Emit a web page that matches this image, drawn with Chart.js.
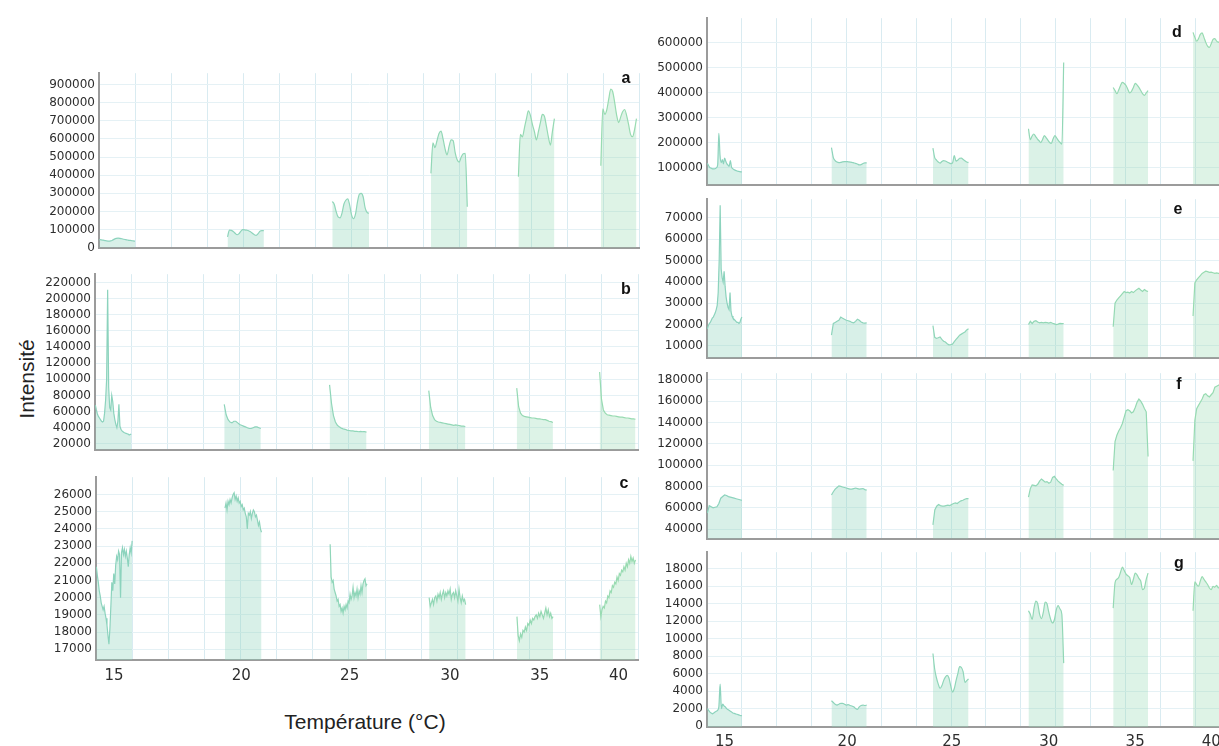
<!DOCTYPE html>
<html><head><meta charset="utf-8">
<script src="https://cdn.jsdelivr.net/npm/chart.js@4/dist/chart.umd.min.js"></script>
<style>
html,body{margin:0;padding:0;background:#fff;overflow:hidden;width:1219px;height:746px;}
#wrap{position:relative;width:1219px;height:746px;overflow:hidden;background:#fff;}
canvas{position:absolute;}
.lt{position:absolute;font:bold 16px "Liberation Sans",Arial,sans-serif;color:#111;transform:translate(-50%,-50%);}
.title{position:absolute;font:21px "Liberation Sans",Arial,sans-serif;color:#222;white-space:nowrap;transform:translate(-50%,-50%);}
</style></head>
<body><div id="wrap">
<div class="title" style="left:27px;top:379px;transform:translate(-50%,-50%) rotate(-90deg);">Intensité</div>
<div class="title" style="left:365px;top:722px;">Température (°C)</div>
</div>
<script>
// ---------------- DATA ----------------
const tempLabels = ['15','20','25','30','35','40'];
const tempPositions = [0.5, 4.02, 7.02, 9.8, 12.28, 14.46];
const xGrid = [0,1,2,3,4,5,6,7,8,9,10,11,12,13,14,15];
const segStart = [0.01, 3.57, 6.48, 9.22, 11.65, 13.94];
const segEnd   = [1.0, 4.58, 7.5, 10.23, 12.65, 14.93];
const panelLetters = ['a','b','c','d','e','f','g'];

const aTicks = [0,100000,200000,300000,400000,500000,600000,700000,800000,900000];
const aRange = [0, 962000];
const a1 = [45000,44000,42000,40000,38000,37000,38000,42000,48000,52000,53000,52000,50000,47000,45000,43000,41000,40000,38000,37000];
const a2 = [60000,98000,96000,90000,80000,72000,78000,92000,100000,99000,97000,94000,88000,80000,72000,68000,78000,92000,95000,94000];
const a3 = [255000,240000,200000,170000,165000,190000,240000,262000,270000,235000,180000,160000,185000,250000,295000,300000,280000,220000,195000,190000];
const a4 = [410000,578000,552000,590000,630000,643000,600000,545000,512000,560000,595000,590000,525000,485000,472000,500000,518000,520000,226000];
const a5 = [392000,625000,611000,660000,710000,755000,730000,680000,640000,595000,640000,690000,735000,725000,670000,610000,566000,640000,712000];
const a6 = [452000,765000,735000,760000,820000,875000,860000,800000,730000,690000,720000,750000,762000,730000,680000,625000,612000,650000,712000];

const bTicks = [20000,40000,60000,80000,100000,120000,140000,160000,180000,200000,220000];
const bRange = [12600, 230200];
const b1 = [68000,62000,57000,54000,52000,50000,48000,47000,48000,58000,74000,100000,211000,90000,65000,62000,80000,72000,58000,50000,44000,40000,48000,69000,42000,38000,36000,35000,34000,33500,33000,32500,32000,31000,31500,32000];
const b2 = [69000,56000,50000,47000,46000,48000,48000,46000,44000,43000,42000,41000,40000,39000,39000,40000,41000,41000,40000,39000];
const b3 = [93000,70000,55000,47000,43000,41000,39500,38500,38000,37000,36500,36000,36000,35500,35500,35000,35500,35000,35000,34500];
const b4 = [86000,65000,55000,50000,48000,47000,46500,46000,45500,45000,44500,44000,43500,43000,43500,43000,42500,42000,42000,41500];
const b5 = [89000,66000,58000,55000,54000,53500,53000,52500,52000,52000,51500,51000,51000,50500,50000,50000,49000,48000,47500,46500];
const b6 = [109000,75000,62000,58000,56000,55500,55000,54500,54500,54000,53500,53000,53000,52500,52000,52000,51500,51000,51000,50500];

const cTicks = [17000,18000,19000,20000,21000,22000,23000,24000,25000,26000];
const cRange = [16380, 27000];
const c1 = [21800,21300,20900,20400,20100,19700,19500,19300,19500,19100,18800,18400,17800,17300,18200,19500,20900,20400,21400,20800,21900,22400,22200,22700,22500,20000,22600,22900,22500,22800,22400,22700,22300,21800,22500,22900,22600,23300];
const c2 = [25200,25500,25100,25600,25400,25700,25500,25800,26000,26100,25700,25900,25600,25800,25500,25600,25300,25400,25100,25200,24900,24700,24000,24900,24800,25000,24600,24900,25100,25000,24700,24800,24500,24200,24400,24000,23800];
const c3 = [23100,21200,20900,21000,20500,20300,20100,19800,19900,19500,19600,19200,19400,19100,19500,19300,19600,19400,19800,19700,20200,19900,20100,20600,20000,20300,20100,20500,20000,20400,20200,20700,20300,20800,21000,21100,20700,20800];
const c4 = [20000,19500,19700,19900,19600,20000,20100,19800,20200,20000,20300,19900,20200,20400,20000,20300,20100,20400,20200,20500,19900,20200,20300,20000,20400,20100,19800,20500,20000,19700,20100,19800,19900,19600];
const c5 = [18900,17800,17500,17900,17700,18100,18000,18300,18100,18500,18400,18700,18500,18800,18700,18900,19000,18800,19100,18900,19200,19000,18800,19100,19400,19000,19300,18900,19100,18800,18900];
const c6 = [19600,18900,19300,19500,19400,19800,19700,20100,20000,20400,20300,20700,20600,20900,20800,21200,21000,21400,21300,21600,21500,21800,21600,22000,21800,22200,22000,22400,22100,22300,22000,22200];

const dTicks = [100000,200000,300000,400000,500000,600000];
const dRange = [31200, 696600];
const d1 = [117000,108000,101000,98000,96000,95000,95000,96000,100000,112000,237000,150000,120000,132000,115000,138000,125000,115000,110000,105000,128000,102000,96000,92000,90000,88000,86000,85000,84000,83000,83000];
const d2 = [180000,140000,128000,122000,120000,121000,123000,124000,124000,123000,122000,121000,119000,117000,114000,111000,112000,116000,119000,119000];
const d3 = [178000,140000,130000,122000,118000,124000,128000,126000,122000,119000,116000,118000,148000,126000,130000,137000,138000,132000,127000,122000,120000];
const d4 = [255000,212000,225000,234000,225000,215000,207000,200000,212000,228000,220000,210000,200000,197000,215000,228000,218000,208000,200000,194000,520000];
const d5 = [420000,408000,395000,410000,428000,440000,436000,428000,412000,398000,405000,420000,436000,430000,420000,408000,395000,388000,398000,407000];
const d6 = [640000,620000,605000,615000,632000,638000,620000,600000,585000,580000,595000,612000,615000,605000,600000,610000,615000,612000,608000,605000];

const eTicks = [10000,20000,30000,40000,50000,60000,70000];
const eRange = [4400, 78800];
const e1 = [18000,19500,20500,21000,22000,23000,23500,24500,25500,27000,29000,35000,50000,76000,46000,42000,40000,45000,38000,33000,30000,28000,27000,35000,26000,24000,23000,22500,22000,21500,21000,21000,20500,21000,22500,23500];
const e2 = [15000,20500,21000,21500,22000,23500,23000,22500,22000,21800,21500,21000,20800,21500,22500,22000,21200,20800,20700,20800];
const e3 = [19500,14000,13500,13800,14200,13000,12200,11800,11000,10500,10600,10800,12000,13000,14000,15000,15500,16000,16500,17500,18000];
const e4 = [20000,21500,20500,21500,21800,21200,20800,21000,20800,21000,20900,20700,21000,20600,20300,20000,20200,20500,20400,20500];
const e5 = [19000,30000,31500,32500,33500,34500,35500,35000,35200,34800,35500,35000,35800,36500,37000,36200,35500,36400,35800,35500];
const e6 = [24000,39500,41000,42000,43000,44000,44500,45000,44800,44500,44600,44300,44000,44200,44000,43800,44000,44200,43900,44000];

const fTicks = [40000,60000,80000,100000,120000,140000,160000,180000];
const fRange = [30900, 186200];
const f1 = [55000,62000,61000,60000,60500,61000,64000,69000,70500,72000,71500,70500,70000,69500,69000,68500,68000,67500,67000];
const f2 = [72000,75000,77500,79000,80500,80000,79500,79000,78500,78000,77500,77500,78000,78500,78000,77500,77800,78000,77000,76500];
const f3 = [44000,58000,61500,63000,62000,61500,61500,62000,62500,62000,63000,64000,64500,64000,65500,66500,67000,68000,68500,68500];
const f4 = [70000,78000,81500,81000,80500,82000,85000,87000,85500,84000,84500,83000,84000,88500,89500,87000,85000,83500,82000,81000];
const f5 = [95000,122000,128000,132000,135000,139000,145000,151000,152000,151000,149000,150000,154000,159000,162000,160000,157000,153000,150000,108000];
const f6 = [104000,142000,153000,156000,159000,162000,166000,167000,165000,164000,166000,168000,173000,174000,175000,176000,175000,176000,177000,176000];

const gTicks = [0,2000,4000,6000,8000,10000,12000,14000,16000,18000];
const gRange = [-110, 19900];
const g1 = [2000,1800,1600,1500,1400,1500,1600,1700,1800,2200,4800,2000,2500,2300,2200,2000,1900,1800,1700,1600,1500,1450,1400,1350,1300,1250,1200,1200];
const g2 = [2900,2700,2500,2400,2500,2600,2600,2500,2400,2450,2350,2300,2200,2000,1900,2200,2350,2400,2350,2400];
const g3 = [8300,6500,5500,4800,4300,4600,5200,5600,5800,5500,4600,3900,4300,5200,6000,6800,6700,6200,5000,5200,5400];
const g4 = [13200,12800,12200,13500,14300,14000,12800,12300,13000,14200,14000,13000,12200,11800,12200,13300,13800,13400,12800,7200];
const g5 = [13500,16400,16800,17000,17600,18200,17800,17400,17200,17000,16200,16800,17500,17300,16900,16600,15600,15800,16800,17500];
const g6 = [13200,16500,16200,16000,16600,17100,16800,16500,16200,15800,15600,16000,15900,16100,15800,16000,16200,15900,16000,16100];

// ---------------- STYLE / LAYOUT ----------------
const segLine = ['#8cd3bd','#8ed4bb','#90d6b9','#92d7b6','#95d9b3','#98dbb1'];
const segFill = ['rgba(140,211,189,0.34)','rgba(142,212,187,0.34)','rgba(144,214,185,0.34)','rgba(146,215,182,0.33)','rgba(149,217,179,0.32)','rgba(152,219,177,0.32)'];
const PADT = 10, PADR = 10;

const panels = [
  {letter:0, series:[a1,a2,a3,a4,a5,a6], ticks:aTicks, range:aRange, L:99, T:72, B:257, PW:540, xH:2, labels:false, smooth:true, lx:626, ly:78},
  {letter:1, series:[b1,b2,b3,b4,b5,b6], ticks:bTicks, range:bRange, L:95, T:273, B:459, PW:543, xH:2, labels:false, smooth:false, lx:626, ly:289},
  {letter:2, series:[c1,c2,c3,c4,c5,c6], ticks:cTicks, range:cRange, L:96, T:476, B:660, PW:542, xH:40, labels:true, lpad:7, smooth:false, lx:624, ly:483},
  {letter:3, series:[d1,d2,d3,d4,d5,d6], ticks:dTicks, range:dRange, L:707, T:17, B:194, PW:523, xH:2, labels:false, smooth:true, lx:1177, ly:32},
  {letter:4, series:[e1,e2,e3,e4,e5,e6], ticks:eTicks, range:eRange, L:707, T:198, B:367, PW:523, xH:2, labels:false, smooth:false, lx:1178, ly:209},
  {letter:5, series:[f1,f2,f3,f4,f5,f6], ticks:fTicks, range:fRange, L:707, T:372, B:548, PW:523, xH:2, labels:false, smooth:false, lx:1179, ly:384},
  {letter:6, series:[g1,g2,g3,g4,g5,g6], ticks:gTicks, range:gRange, L:707, T:551, B:727, PW:523, xH:30, labels:true, lpad:6, smooth:true, lx:1179, ly:563}
];

const wrap = document.getElementById('wrap');
const yW = p => (p.L < 640 ? p.L : p.L - 640);

panels.forEach(p => {
  const cv = document.createElement('canvas');
  const w = yW(p) + p.PW + PADR;
  const h = PADT + (p.B - p.T) + p.xH;
  cv.width = w; cv.height = h;
  cv.style.width = w + 'px'; cv.style.height = h + 'px';
  cv.style.left = (p.L - yW(p)) + 'px';
  cv.style.top = (p.T - PADT) + 'px';
  wrap.appendChild(cv);

  const datasets = p.series.map((vals, i) => ({
    data: vals.map((v, k) => ({x: segStart[i] + k * (segEnd[i] - segStart[i]) / (vals.length - 1), y: v})),
    borderColor: segLine[i],
    backgroundColor: segFill[i],
    borderWidth: 1.2,
    fill: 'start',
    pointRadius: 0,
    tension: p.smooth ? 0.4 : 0,
    cubicInterpolationMode: p.smooth ? 'monotone' : 'default'
  }));

  const scales = {
    x: {
      type: 'linear', position: 'bottom', min: 0, max: 15, weight: 0,
      afterBuildTicks: s => { s.ticks = xGrid.map(v => ({value: v})); },
      afterFit: s => { s.height = p.labels ? 0 : p.xH; },
      ticks: {display: false, autoSkip: false},
      grid: {color: '#d9ebf1', lineWidth: 1, drawTicks: false},
      border: {display: true, color: '#9b9b9b', width: 2}
    },
    y: {
      type: 'linear', min: p.range[0], max: p.range[1],
      afterBuildTicks: s => { s.ticks = p.ticks.map(v => ({value: v})); },
      afterFit: s => { s.width = yW(p); },
      ticks: {padding: 4, autoSkip: false, color: '#2e2e2e', font: {family: 'DejaVu Sans', size: 12}, callback: v => String(v)},
      grid: {color: '#e5f1f5', lineWidth: 1, drawTicks: false},
      border: {display: true, color: '#9b9b9b', width: 2}
    }
  };
  if (p.labels) {
    scales.x2 = {
      type: 'linear', position: 'bottom', min: 0, max: 15, weight: 1,
      afterBuildTicks: s => { s.ticks = tempPositions.map(v => ({value: v})); },
      afterFit: s => { s.height = p.xH; },
      ticks: {autoSkip: false, maxRotation: 0, minRotation: 0, padding: p.lpad, color: '#2e2e2e',
              font: {family: 'DejaVu Sans', size: 15}, callback: (v, i) => tempLabels[i]},
      grid: {display: false, drawTicks: false},
      border: {display: false}
    };
  }

  new Chart(cv, {
    type: 'line',
    data: {datasets},
    options: {
      responsive: false, animation: false, devicePixelRatio: 1,
      layout: {padding: {top: PADT, right: PADR, left: 0, bottom: 0}},
      plugins: {legend: {display: false}, tooltip: {enabled: false}},
      scales
    }
  });

  const lt = document.createElement('div');
  lt.className = 'lt';
  lt.textContent = panelLetters[p.letter];
  lt.style.left = p.lx + 'px';
  lt.style.top = p.ly + 'px';
  wrap.appendChild(lt);
});
</script>
</body></html>
